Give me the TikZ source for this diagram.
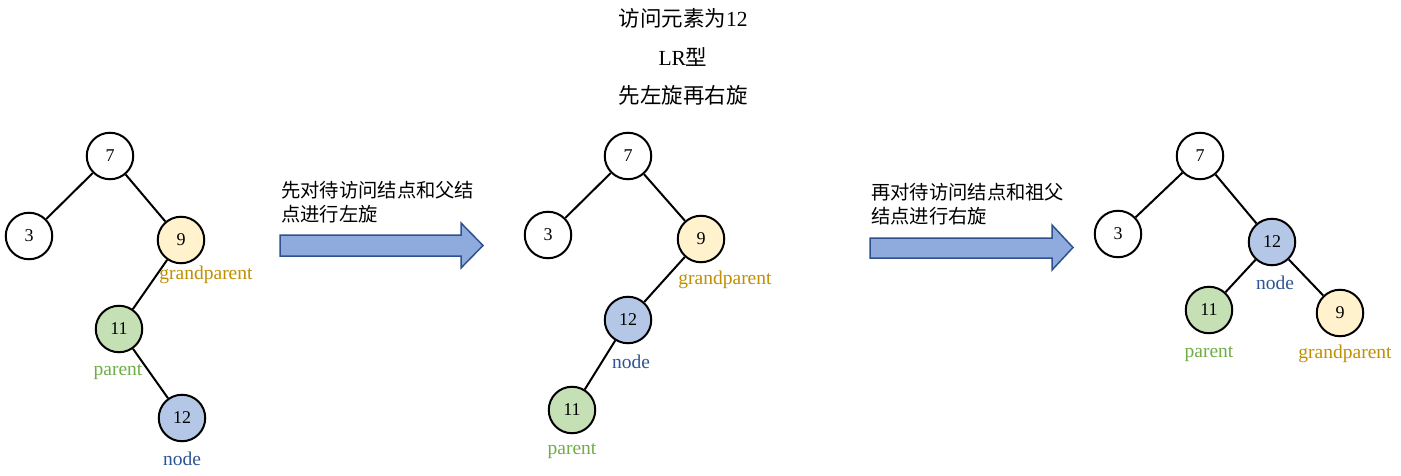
\documentclass[tikz,border=0pt]{standalone}
\usepackage{fontspec}
\setmainfont{Liberation Serif}
\newfontfamily\cjk{Noto Sans CJK SC}
\definecolor{yfill}{HTML}{FFF2CC}
\definecolor{gfill}{HTML}{C5E0B4}
\definecolor{bfill}{HTML}{B4C7E7}
\definecolor{gold}{HTML}{BF9000}
\definecolor{grn}{HTML}{70AD47}
\definecolor{blu}{HTML}{2F5597}
\definecolor{afill}{HTML}{8FAADC}
\definecolor{aline}{HTML}{2F528F}
\tikzset{
  vtx/.style={circle,draw=black,line width=2pt,minimum size=46.5pt,inner sep=0pt,font=\fontsize{18}{20}\selectfont},
  gp/.style={vtx,fill=yfill},
  pa/.style={vtx,fill=gfill},
  nd/.style={vtx,fill=bfill},
  edge/.style={line width=2pt},
  lab/.style={font=\fontsize{19.5}{22}\selectfont,inner sep=0pt},
  bigarrow/.style={fill=afill,draw=aline,line width=1.5pt},
  note/.style={font=\cjk\fontsize{19.3}{23}\selectfont,anchor=west,inner sep=0pt},
  title/.style={font=\fontsize{21.5}{24}\selectfont,inner sep=0pt}
}
\begin{document}
\begin{tikzpicture}[x=1pt,y=-1pt]
\useasboundingbox[fill=white] (0,0) rectangle (1401,476);
% titles
\node[title] (t1) at (683,18) {{\cjk 访问元素为}12};
\node[title] (t2) at (683,57) {LR{\cjk 型}};
\node[title] (t3) at (683,95) {{\cjk 先左旋再右旋}};
% tree 1
\node[vtx] (a7) at (110,156) {7};
\node[vtx] (a3) at (29,236) {3};
\node[gp] (a9) at (181,240) {9};
\node[pa] (a11) at (119,329) {11};
\node[nd] (a12) at (182,418) {12};
\draw[edge] (a7)--(a3); \draw[edge] (a7)--(a9);
\draw[edge] (a9)--(a11); \draw[edge] (a11)--(a12);
\node[lab,text=gold] (la9) at (206,275) {grandparent};
\node[lab,text=grn] (la11) at (118,372) {parent};
\node[lab,text=blu] (la12) at (182,459) {node};
% arrow 1
\draw[bigarrow] (280,235)--(461,235)--(461,223)--(483,245.5)--(461,268)--(461,256)--(280,256)--cycle;
\node[note] (n1a) at (281,190) {先对待访问结点和父结};
\node[note] (n1b) at (281,214) {点进行左旋};
% tree 2
\node[vtx] (b7) at (628,156) {7};
\node[vtx] (b3) at (548,235) {3};
\node[gp] (b9) at (701,239) {9};
\node[nd] (b12) at (628,320) {12};
\node[pa] (b11) at (572,410) {11};
\draw[edge] (b7)--(b3); \draw[edge] (b7)--(b9);
\draw[edge] (b9)--(b12); \draw[edge] (b12)--(b11);
\node[lab,text=gold] (lb9) at (725,280) {grandparent};
\node[lab,text=blu] (lb12) at (631,362) {node};
\node[lab,text=grn] (lb11) at (572,451) {parent};
% arrow 2
\draw[bigarrow] (870,238)--(1052,238)--(1052,225)--(1073,247.5)--(1052,270)--(1052,258)--(870,258)--cycle;
\node[note] (n2a) at (871,192) {再对待访问结点和祖父};
\node[note] (n2b) at (871,216) {结点进行右旋};
% tree 3
\node[vtx] (c7) at (1200,156) {7};
\node[vtx] (c3) at (1118,234) {3};
\node[nd] (c12) at (1272,242) {12};
\node[pa] (c11) at (1209,310) {11};
\node[gp] (c9) at (1340,313) {9};
\draw[edge] (c7)--(c3); \draw[edge] (c7)--(c12);
\draw[edge] (c12)--(c11); \draw[edge] (c12)--(c9);
\node[lab,text=blu] (lc12) at (1275,283) {node};
\node[lab,text=grn] (lc11) at (1209,354) {parent};
\node[lab,text=gold] (lc9) at (1345,354) {grandparent};
\end{tikzpicture}
\end{document}
